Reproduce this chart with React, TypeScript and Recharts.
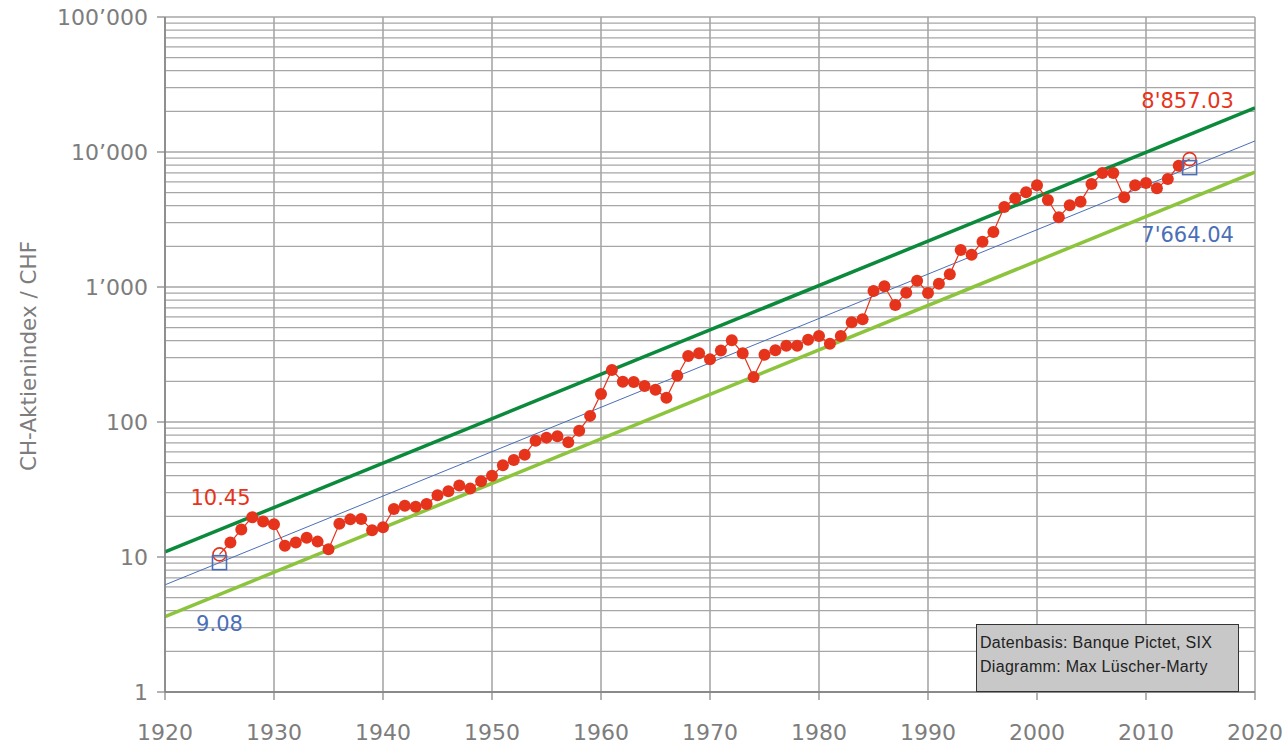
import React from 'react'
import {
  ComposedChart,
  Line,
  XAxis,
  YAxis,
  CartesianGrid,
  ReferenceDot,
  ReferenceLine,
} from 'recharts'

// CH-Aktienindex, Jahreswerte 1925 bis 2014
const FIRST_YEAR = 1925
const indexValues = [
  10.45, 12.8, 16.0, 19.7, 18.3, 17.5, 12.1, 12.8, 13.9, 13.0,
  11.4, 17.6, 19.0, 19.1, 15.8, 16.6, 22.7, 24.0, 23.6, 24.7,
  28.7, 30.7, 33.8, 32.1, 36.4, 40.0, 47.8, 52.3, 57.3, 72.7,
  76.6, 78.3, 70.8, 86.2, 111, 161, 243, 199, 198, 185,
  173, 151, 220, 308, 323, 291, 338, 403, 323, 215,
  315, 340, 367, 367, 407, 434, 380, 434, 548, 577,
  934, 1012, 736, 907, 1114, 903, 1058, 1242, 1880, 1734,
  2166, 2556, 3914, 4540, 5029, 5666, 4409, 3280, 4030, 4285,
  5796, 6985, 6985, 4618, 5666, 5892, 5380, 6310, 7925, 8857.03,
]

// Trendlinie und Bandbreite (Werte an den Rändern 1920 / 2020)
const bandYears = [1920, 2020]
const upperBand = [10.9, 21200]
const trendLine = [6.22, 12075]
const lowerBand = [3.61, 7100]

// Start- und Endwerte
const trendStart = { year: 1925, value: 9.08, label: '9.08' }
const trendEnd = { year: 2014, value: 7664.04, label: "7'664.04" }
const indexStart = { year: 1925, value: 10.45, label: '10.45' }
const indexEnd = { year: 2014, value: 8857.03, label: "8'857.03" }

const xTicks = [1920, 1930, 1940, 1950, 1960, 1970, 1980, 1990, 2000, 2010, 2020]
const yTicks = [1, 10, 100, 1000, 10000, 100000]
const minorSteps = [2, 3, 4, 5, 6, 7, 8, 9]

const sourceLines = ['Datenbasis: Banque Pictet, SIX', 'Diagramm: Max Lüscher-Marty']

const RED = '#e6331b'
const BLUE = '#4a6fb8'
const DARK_GREEN = '#0b8a3c'
const LIGHT_GREEN = '#8dc43d'
const AXIS_TEXT = '#7d7d7d'
const GRID = '#a6a6a6'

const indexData = indexValues.map((value, i) => ({ year: FIRST_YEAR + i, value }))
const toSeries = (vals: number[]) => bandYears.map((year, i) => ({ year, value: vals[i] }))

// alle Gitterlinien der log. Skala (1, 2 ... 9, 10, 20 ... 100'000)
const gridValues: number[] = []
yTicks.forEach((decade, i) => {
  gridValues.push(decade)
  if (i < yTicks.length - 1) minorSteps.forEach((m) => gridValues.push(decade * m))
})

const formatThousands = (v: number) =>
  String(v).replace(/\B(?=(\d{3})+(?!\d))/g, '\u2019')

const IndexDot = (props: any) => {
  const { cx, cy, index } = props
  if (cx == null || cy == null) return null
  if (index === 0 || index === indexValues.length - 1) {
    return <circle key={index} cx={cx} cy={cy} r={6.5} fill="none" stroke={RED} strokeWidth={1.6} />
  }
  return <circle key={index} cx={cx} cy={cy} r={6} fill={RED} stroke="none" />
}

const labelShape = (text: string, color: string, dx: number, dy: number, marker: 'circle' | 'square') =>
  (props: any) => {
    const { cx, cy } = props
    return (
      <g>
        {marker === 'square' ? (
          <rect x={cx - 7} y={cy - 7} width={14} height={14} fill="none" stroke={color} strokeWidth={1.6} />
        ) : null}
        <text
          x={cx + dx}
          y={cy + dy}
          fill={color}
          fontSize={21}
          textAnchor="middle"
          dominantBaseline="central"
          fontFamily="DejaVu Sans"
        >
          {text}
        </text>
      </g>
    )
  }

export default function App() {
  return (
    <div style={{ position: 'absolute', left: 0, top: 0, width: 1287, height: 747, background: '#fff' }}>
      <ComposedChart
        width={1287}
        height={747}
        margin={{ top: 17, right: 32, bottom: 25, left: 0 }}
        style={{ fontFamily: 'DejaVu Sans' }}
      >
        <CartesianGrid stroke="#939393" strokeWidth={1.3} horizontal={false} vertical />
        {gridValues.map((v) => (
          <ReferenceLine key={v} y={v} stroke={GRID} strokeWidth={1.3} />
        ))}
        <XAxis
          dataKey="year"
          type="number"
          domain={[1920, 2020]}
          ticks={xTicks}
          allowDataOverflow
          tickSize={8}
          tickMargin={24}
          axisLine={{ stroke: '#7a7a7a', strokeWidth: 1.3 }}
          tickLine={{ stroke: '#8a8a8a', strokeWidth: 1.3 }}
          tick={{ fontSize: 22, fill: AXIS_TEXT }}
          height={30}
        />
        <YAxis
          dataKey="value"
          scale="log"
          domain={[1, 100000]}
          ticks={yTicks}
          allowDataOverflow
          width={165}
          tickSize={8}
          tickMargin={9}
          tickFormatter={formatThousands}
          axisLine={{ stroke: '#7a7a7a', strokeWidth: 1.3 }}
          tickLine={{ stroke: '#8a8a8a', strokeWidth: 1.3 }}
          tick={{ fontSize: 22, fill: AXIS_TEXT }}
          label={{
            content: () => (
              <text
                x={28}
                y={356}
                transform="rotate(-90 28 356)"
                textAnchor="middle"
                dominantBaseline="central"
                fontSize={21.5}
                fill={AXIS_TEXT}
              >
                CH-Aktienindex / CHF
              </text>
            ),
          }}
        />
        <Line
          data={toSeries(lowerBand)}
          dataKey="value"
          stroke={LIGHT_GREEN}
          strokeWidth={3.5}
          dot={false}
          isAnimationActive={false}
        />
        <Line
          data={toSeries(upperBand)}
          dataKey="value"
          stroke={DARK_GREEN}
          strokeWidth={3.5}
          dot={false}
          isAnimationActive={false}
        />
        <Line
          data={toSeries(trendLine)}
          dataKey="value"
          stroke={BLUE}
          strokeWidth={1}
          dot={false}
          isAnimationActive={false}
        />
        <Line
          data={indexData}
          dataKey="value"
          stroke={RED}
          strokeWidth={1.2}
          dot={<IndexDot />}
          isAnimationActive={false}
        />
        <ReferenceDot
          x={trendStart.year}
          y={trendStart.value}
          r={7}
          shape={labelShape(trendStart.label, BLUE, 0, 61, 'square')}
        />
        <ReferenceDot
          x={trendEnd.year}
          y={trendEnd.value}
          r={7}
          shape={labelShape(trendEnd.label, BLUE, -2, 67, 'square')}
        />
        <ReferenceDot
          x={indexStart.year}
          y={indexStart.value}
          r={7}
          shape={labelShape(indexStart.label, RED, 1, -56, 'circle')}
        />
        <ReferenceDot
          x={indexEnd.year}
          y={indexEnd.value}
          r={7}
          shape={labelShape(indexEnd.label, RED, -2, -58, 'circle')}
        />
      </ComposedChart>
      <div
        style={{
          position: 'absolute',
          left: 976,
          top: 624,
          width: 258,
          height: 60,
          background: '#c8c8c8',
          border: '1px solid #333',
          fontFamily: 'Liberation Sans',
          fontSize: 16,
          letterSpacing: 0.3,
          color: '#222',
          padding: '6px 0 0 3px',
          lineHeight: '24px',
          boxSizing: 'content-box',
        }}
      >
        {sourceLines.map((line) => (
          <div key={line}>{line}</div>
        ))}
      </div>
    </div>
  )
}
